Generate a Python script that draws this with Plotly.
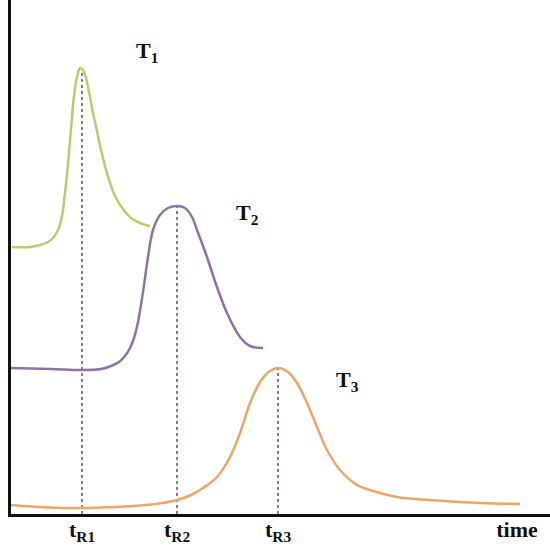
import plotly.graph_objects as go

# time / signal readings for the three peaks
t1 = [1, 19, 29, 37, 42, 47, 51, 54, 57, 60, 63, 66, 69, 72, 75, 78, 82, 86, 90, 96, 104, 112, 120, 129, 139]
s1 = [267, 267, 269, 272, 276, 284, 298, 321, 350, 385, 418, 437, 446, 444, 436, 422, 401, 383, 364, 341, 318, 305, 296, 291, 288]

t2 = [0, 40, 72, 90, 100, 108, 114, 119, 123, 127, 132, 137, 142, 149, 157, 166, 174, 181, 186, 196, 206, 216, 229, 239, 252]
s2 = [146, 145, 144, 145, 148, 152, 158, 166, 176, 192, 222, 257, 284, 299, 306, 308, 306, 297, 284, 257, 227, 201, 177, 168, 166]

t3 = [0, 56, 122, 145, 166, 180, 192, 206, 219, 229, 239, 249, 259, 267, 277, 286, 296, 306, 316, 329, 346, 359, 386, 419, 469, 509]
s3 = [9, 6, 8, 10, 14, 19, 26, 37, 57, 81, 111, 132, 143, 146, 142, 131, 111, 87, 64, 44, 29, 24, 17, 14, 11, 10]

peak_t = [71, 166, 267]
peak_s = [446, 308, 146]
tick_text = ["t<sub>R1</sub>", "t<sub>R2</sub>", "t<sub>R3</sub>", "time"]
tick_vals = peak_t + [506]
labels = ["T<sub>1</sub>", "T<sub>2</sub>", "T<sub>3</sub>"]
label_t = [136, 236, 336]
label_s = [462, 300, 133]

colors = ["#b3cf6a", "#8f72ad", "#f1a463"]

fig = go.Figure()

# dotted drop lines from each peak
for t, s in zip(peak_t, peak_s):
    fig.add_trace(go.Scatter(
        x=[t, t], y=[0, s], mode="lines",
        line=dict(color="#8c7c82", width=2, dash="dot"),
        showlegend=False, hoverinfo="skip"
    ))

for x, y, c in zip([t1, t2, t3], [s1, s2, s3], colors):
    fig.add_trace(go.Scatter(
        x=x, y=y, mode="lines",
        line=dict(color=c, width=2.5, shape="spline", smoothing=1),
        showlegend=False
    ))

for txt, x, y in zip(labels, label_t, label_s):
    fig.add_annotation(x=x, y=y, text="<b>" + txt + "</b>", showarrow=False,
                       font=dict(family="Liberation Serif", size=22, color="#111"))

fig.update_layout(
    width=550, height=547,
    margin=dict(l=11, r=0, t=0, b=33),
    plot_bgcolor="white", paper_bgcolor="white",
)
fig.update_xaxes(
    range=[0, 539], showgrid=False, zeroline=False,
    showline=True, linecolor="#111", linewidth=3,
    tickvals=tick_vals, ticktext=["<b>" + t + "</b>" for t in tick_text],
    ticks="", ticklabelstandoff=-6,
    tickfont=dict(family="Liberation Serif", size=22, color="#111")
)
fig.update_yaxes(
    range=[0, 514], showgrid=False, zeroline=False,
    showline=True, linecolor="#111", linewidth=3,
    showticklabels=False, ticks=""
)

# page margin off so the figure fills the window
fig.write_html("out.html", config={"displayModeBar": False},
               post_script="document.body.style.margin='0px';")
